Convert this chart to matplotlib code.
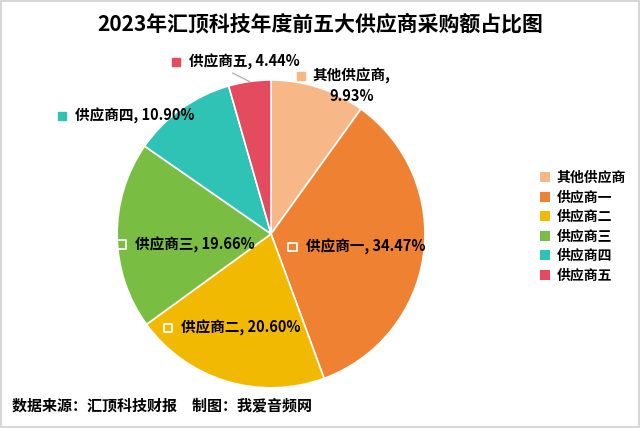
import matplotlib
matplotlib.use("Agg")
import matplotlib.pyplot as plt
from matplotlib.patches import Rectangle

plt.rcParams['font.family'] = ['Noto Sans CJK SC', 'DejaVu Sans']

names = ['其他供应商', '供应商一', '供应商二', '供应商三', '供应商四', '供应商五']
shares = [9.93, 34.47, 20.60, 19.66, 10.90, 4.44]
colors = ['#F7B787', '#EF8132', '#F2B903', '#7ABD43', '#2FC3B5', '#E54B5E']

# label layout (pie data units, centre 0,0 radius 1), inside flag
label_pos = [(0.195, 1.026), (0.14, -0.085), (-0.67, -0.61), (-0.97, -0.07), (-1.36, 0.766), (-0.62, 1.12)]
inside = [False, True, True, True, False, False]

fig = plt.figure(figsize=(6.4, 4.28), dpi=100)
fig.patch.set_facecolor('white')
fig.add_artist(Rectangle((0.002, 0.002), 0.996, 0.996, transform=fig.transFigure,
                         fill=False, edgecolor='#d0d0d0', linewidth=1.2))

ax = fig.add_axes([0.183, 0.0935, 0.481, 0.72])
wedges, _ = ax.pie(shares, colors=colors, startangle=90, counterclock=False,
                   wedgeprops=dict(edgecolor='white', linewidth=1.2))
ax.set_xlim(-1, 1)
ax.set_ylim(-1, 1)
ax.set_aspect('equal')

for i, (name, val) in enumerate(zip(names, shares)):
    x, y = label_pos[i]
    if inside[i]:
        ax.scatter([x], [y], marker='s', s=38, facecolor='none', edgecolor='white',
                   linewidth=1.3, clip_on=False, zorder=5)
    else:
        ax.scatter([x], [y], marker='s', s=30, color=colors[i], clip_on=False, zorder=5)
    if i == 0:
        ax.text(x + 0.075, y, name + ',', fontsize=10.5, fontweight='bold',
                va='center', ha='left', clip_on=False)
        ax.text(0.526, y - 0.13, f'{val:.2f}%', fontsize=10.5, fontweight='bold',
                va='center', ha='center', clip_on=False)
    else:
        ax.text(x + 0.085, y, f'{name}, {val:.2f}%', fontsize=10.5, fontweight='bold',
                va='center', ha='left', clip_on=False)

# leader line for the small slice
ax.plot([-0.25, -0.14], [1.045, 0.99], color='#a6a6a6', linewidth=0.8, clip_on=False)

fig.text(0.5, 0.945, '2023年汇顶科技年度前五大供应商采购额占比图', fontsize=15,
         fontweight='bold', ha='center', va='center')
fig.text(0.019, 0.053, '数据来源：汇顶科技财报　制图：我爱音频网', fontsize=10.8,
         fontweight='bold', ha='left', va='center')

leg = fig.legend(wedges, names, loc='center left', bbox_to_anchor=(0.833, 0.47),
                 frameon=False, fontsize=10, handlelength=0.7, handleheight=0.7,
                 handletextpad=0.5, labelspacing=0.4, borderpad=0)
for t in leg.get_texts():
    t.set_fontweight('bold')
for h in leg.legend_handles:
    h.set_edgecolor('none')

fig.savefig('out.png', dpi=100, facecolor='white')
